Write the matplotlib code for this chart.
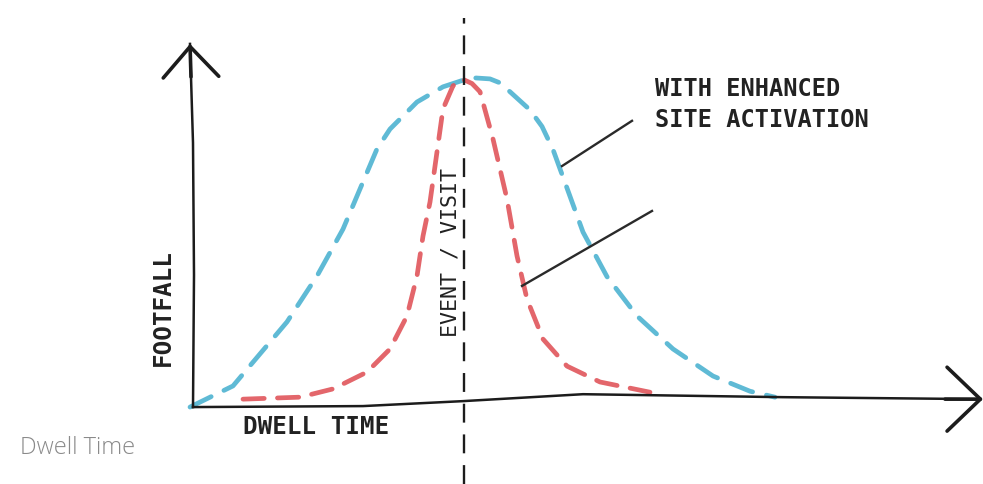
import numpy as np
import matplotlib
matplotlib.use("Agg")
from matplotlib import pyplot as plt

# Hand-drawn sketch: footfall against dwell time around an event / visit.
# x in "dwell time" units, y in "footfall" units (peak = ~1).

# curve with enhanced site activation (wide, blue)
enhanced_x = [0.0, 0.10, 0.43, 0.63, 0.97, 1.27, 1.53, 1.73, 1.87, 2.0, 2.27,
              2.53, 2.73, 2.85, 3.0, 3.1, 3.2, 3.4, 3.52, 3.63, 3.75, 3.93,
              4.17, 4.47, 4.83, 5.23, 5.6, 5.85]
enhanced_y = [0.0, 0.015, 0.064, 0.136, 0.258, 0.397, 0.539, 0.682, 0.782,
              0.842, 0.924, 0.97, 0.99, 0.997, 0.994, 0.982, 0.955, 0.9, 0.85,
              0.78, 0.68, 0.53, 0.395, 0.276, 0.176, 0.094, 0.048, 0.03]

# baseline curve (narrow, red)
base_x = [0.53, 1.1, 1.43, 1.77, 2.0, 2.17, 2.27, 2.33, 2.4, 2.47, 2.53,
          2.63, 2.72, 2.82, 2.9, 3.03, 3.17, 3.27, 3.37, 3.53, 3.77, 4.1, 4.6]
base_y = [0.024, 0.03, 0.055, 0.106, 0.176, 0.276, 0.397, 0.518, 0.621,
          0.773, 0.903, 0.973, 0.994, 0.98, 0.955, 0.812, 0.63, 0.458, 0.327,
          0.206, 0.124, 0.076, 0.045]

# wobbly hand-drawn axes
xaxis_x = [0.03, 1.73, 2.73, 3.93, 5.93, 7.9]
xaxis_y = [0.0, 0.003, 0.018, 0.039, 0.03, 0.024]
yaxis_x = [0.03, 0.04, 0.03, 0.0]
yaxis_y = [0.0, 0.4, 0.8, 1.1]

event_x = 2.74
event_label = "EVENT / VISIT"
curve_label = "WITH ENHANCED\nSITE ACTIVATION"
x_label = "DWELL TIME"
y_label = "FOOTFALL"
caption = "Dwell Time"

BLUE = "#4db3d1"
RED = "#e0555b"
INK = "#1c1c1c"

fig = plt.figure(figsize=(9.83, 4.85), dpi=100)
ax = fig.add_axes([0, 0, 1, 1])
ax.set_xlim(-1.9, 7.93)
ax.set_ylim(-0.233, 1.236)
ax.axis("off")

# curves
ax.plot(enhanced_x, enhanced_y, color=BLUE, lw=3.4, dashes=(5, 3),
        dash_capstyle="round", dash_joinstyle="round", alpha=0.9)
ax.plot(base_x, base_y, color=RED, lw=3.4, dashes=(4.5, 2.8),
        dash_capstyle="round", dash_joinstyle="round", alpha=0.9)

# event line
ax.axvline(event_x, ymin=0.0, ymax=0.96, color=INK, lw=1.7, dashes=(8, 5))

# axes with open hand-drawn arrowheads
ax.plot(xaxis_x, xaxis_y, color=INK, lw=1.8)
ax.plot(yaxis_x, yaxis_y, color=INK, lw=1.8)
ax.annotate("", xy=(7.93, xaxis_y[-1]), xytext=(7.55, xaxis_y[-1]),
            arrowprops=dict(arrowstyle="->,head_length=2.4,head_width=2.3",
                            color=INK, lw=2.6, shrinkA=0, shrinkB=0))
ax.annotate("", xy=(yaxis_x[-1], yaxis_y[-1]), xytext=(0.01, 1.0),
            arrowprops=dict(arrowstyle="->,head_length=2.2,head_width=2.0",
                            color=INK, lw=2.6, shrinkA=0, shrinkB=0))

# leader lines to the curves
ax.plot([4.42, 3.72], [0.867, 0.73], color="#2a2a2a", lw=1.7)
ax.plot([4.62, 3.32], [0.594, 0.367], color="#2a2a2a", lw=1.7)

mono = "DejaVu Sans Mono"
ax.text(-0.27, 0.306, y_label, rotation=90, ha="center", va="center",
        family=mono, weight="bold", fontsize=17.5, color="#222222")
ax.text(1.26, -0.058, x_label, ha="center", va="center",
        family=mono, weight="bold", fontsize=17.5, color="#222222")
ax.text(2.6, 0.47, event_label, rotation=90, ha="center", va="center",
        family=mono, fontsize=15.5, color="#222222")
ax.text(4.65, 0.92, curve_label, ha="left", va="center", linespacing=1.4,
        family=mono, weight="bold", fontsize=17, color="#222222")
ax.text(-1.7, -0.121, caption, ha="left", va="center",
        family="Open Sans", weight="light", fontsize=17, color="#8a8a8a")

fig.savefig("out.png", dpi=100, facecolor="white")
